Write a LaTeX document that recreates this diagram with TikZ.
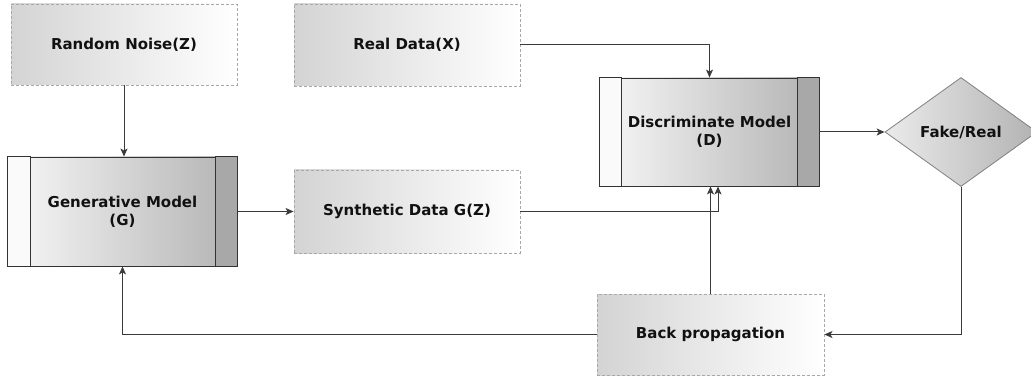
\documentclass[tikz,border=0pt]{standalone}
\usepackage{fontspec}
\setmainfont{DejaVu Sans}
\usetikzlibrary{arrows.meta,shapes.geometric,calc}
\definecolor{dashgray}{HTML}{A8A8A8}
\definecolor{linegray}{HTML}{3A3A3A}
\definecolor{boxdark}{HTML}{333333}
\definecolor{txt}{HTML}{111111}
\tikzset{
  databox/.style={rectangle, draw=dashgray, dash pattern=on 3pt off 2pt, line width=0.9pt,
    left color=black!17, right color=white, minimum width=226pt, minimum height=81pt,
    inner sep=0pt, font=\fontsize{15}{18}\selectfont\bfseries, text=txt, align=center},
  procbox/.style={rectangle, draw=boxdark, line width=0.9pt,
    left color=black!3, right color=black!30, minimum width=229pt, minimum height=109pt,
    inner sep=0pt, font=\fontsize{15}{18}\selectfont\bfseries, text=txt, align=center},
  decbox/.style={diamond, draw=black!50, line width=0.8pt, left color=black!8, right color=black!30,
    minimum width=152pt, minimum height=109pt, inner sep=0pt,
    font=\fontsize{15}{18}\selectfont\bfseries, text=txt},
  conn/.style={draw=linegray, line width=1pt, -{Stealth[length=8pt,width=7pt,inset=2pt]}},
  stripl/.style={fill=black!2, draw=boxdark, line width=0.9pt},
  stripr/.style={fill=black!34, draw=boxdark, line width=0.9pt},
}
\begin{document}
\begin{tikzpicture}[x=1pt,y=-1pt]
\useasboundingbox (0,0) rectangle (1031,377);
\fill[white] (0,0) rectangle (1031,377);
\node[databox] (RN) at (124,44.5) {Random Noise(Z)};
\node[databox, minimum height=82pt] (RD) at (407,45) {Real Data(X)};
\node[procbox] (G) at (122.5,211.5) {Generative Model\\(G)};
\node[databox, minimum height=83pt] (S) at (407,211.5) {Synthetic Data G(Z)};
\node[procbox, minimum width=219pt, minimum height=108pt] (D) at (709.5,132) {Discriminate Model\\(D)};
\node[decbox] (FR) at (961,132) {Fake/Real};
\node[databox, minimum width=227pt] (BP) at (710.5,334.5) {Back propagation};
% process strips
\filldraw[stripl] (G.north west) rectangle ($(G.south west)+(23,0)$);
\filldraw[stripr] ($(G.north east)+(-22,0)$) rectangle (G.south east);
\filldraw[stripl] (D.north west) rectangle ($(D.south west)+(22,0)$);
\filldraw[stripr] ($(D.north east)+(-22,0)$) rectangle (D.south east);
% connectors
\draw[conn] (RN.south) -- (RN.south |- G.north);
\draw[conn] (RD.east) -| (D.north);
\draw[conn] (G.east) -- (S.west);
\draw[conn] (S.east) -| ($(D.south)+(8.5,0)$);
\draw[conn] (BP.north) -- (BP.north |- D.south);
\draw[conn] (D.east) -- (FR.west);
\draw[conn] (FR.south) |- (BP.east);
\draw[conn] (BP.west) -| (G.south);
\end{tikzpicture}
\end{document}
